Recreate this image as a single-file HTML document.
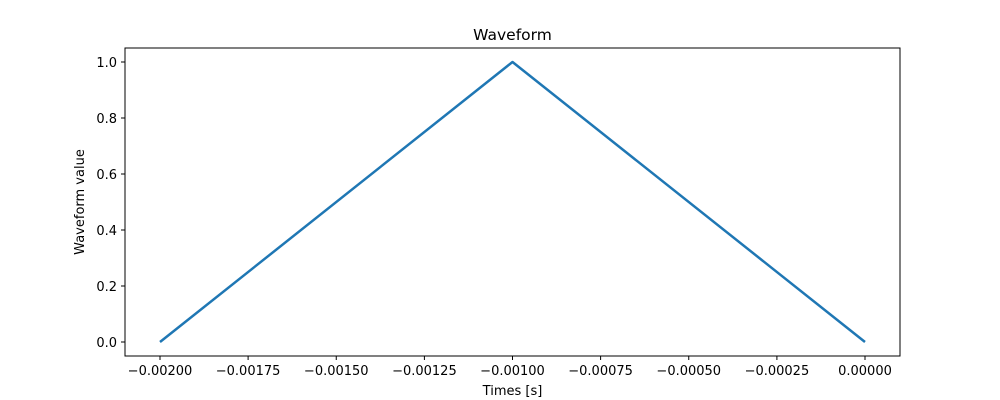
<!DOCTYPE html>
<html><head><style>body{margin:0;background:#fff}svg{display:block}text{font-family:"DejaVu Sans","Liberation Sans",sans-serif;font-size:13px;fill:#000}</style></head>
<body>
<svg width="1000" height="400" viewBox="0 0 1000 400" xmlns="http://www.w3.org/2000/svg">
<rect width="1000" height="400" fill="#fff"/>
<polyline points="160,342 512.5,62 865,342" fill="none" stroke="#1f77b4" stroke-width="2.5" stroke-linejoin="round"/>
<rect x="125" y="48" width="775" height="308" fill="none" stroke="#000" stroke-width="1"/>
<g stroke="#000" stroke-width="1">
<line x1="160" y1="356" x2="160" y2="360"/><line x1="248.1" y1="356" x2="248.1" y2="360"/><line x1="336.25" y1="356" x2="336.25" y2="360"/><line x1="424.4" y1="356" x2="424.4" y2="360"/><line x1="512.5" y1="356" x2="512.5" y2="360"/><line x1="600.6" y1="356" x2="600.6" y2="360"/><line x1="688.75" y1="356" x2="688.75" y2="360"/><line x1="776.9" y1="356" x2="776.9" y2="360"/><line x1="865" y1="356" x2="865" y2="360"/>
<line x1="121" y1="342" x2="125" y2="342"/><line x1="121" y1="286" x2="125" y2="286"/><line x1="121" y1="230" x2="125" y2="230"/><line x1="121" y1="174" x2="125" y2="174"/><line x1="121" y1="118" x2="125" y2="118"/><line x1="121" y1="62" x2="125" y2="62"/>
</g>
<g text-anchor="middle">
<text x="160" y="375">−0.00200</text><text x="248.1" y="375">−0.00175</text><text x="336.25" y="375">−0.00150</text><text x="424.4" y="375">−0.00125</text><text x="512.5" y="375">−0.00100</text><text x="600.6" y="375">−0.00075</text><text x="688.75" y="375">−0.00050</text><text x="776.9" y="375">−0.00025</text><text x="865" y="375">0.00000</text>
<text x="512.5" y="395">Times [s]</text>
<text x="512.5" y="40" style="font-size:15.5px">Waveform</text>
<text transform="translate(84,202) rotate(-90)">Waveform value</text>
</g>
<g text-anchor="end">
<text x="117" y="347">0.0</text><text x="117" y="291">0.2</text><text x="117" y="235">0.4</text><text x="117" y="179">0.6</text><text x="117" y="123">0.8</text><text x="117" y="67">1.0</text>
</g>
</svg>
</body></html>
